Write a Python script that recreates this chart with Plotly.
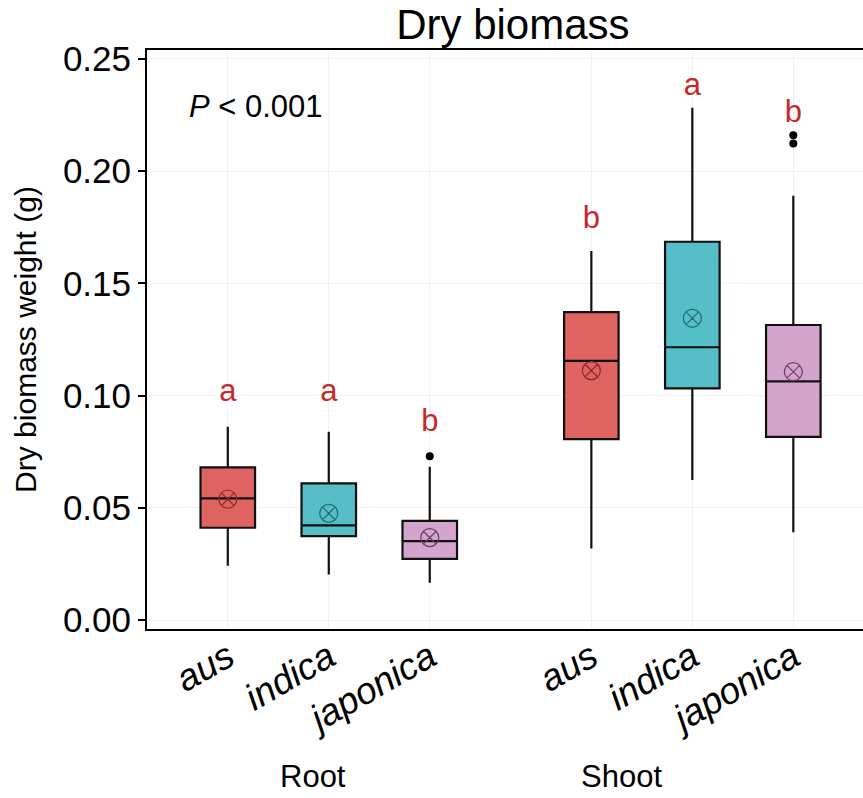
import plotly.graph_objects as go

# ---- data ----
subspecies = ["aus", "indica", "japonica"]
tissues = ["Root", "Shoot"]
x_pos = {"Root": [1.0, 2.0, 3.0], "Shoot": [4.6, 5.6, 6.6]}

q1 = {"aus": [0.0411, 0.0806], "indica": [0.0374, 0.1032], "japonica": [0.0272, 0.0816]}
median = {"aus": [0.0542, 0.1154], "indica": [0.0422, 0.1215], "japonica": [0.0351, 0.1063]}
q3 = {"aus": [0.0680, 0.1371], "indica": [0.0609, 0.1685], "japonica": [0.0442, 0.1314]}
lowerfence = {"aus": [0.0242, 0.0319], "indica": [0.0203, 0.0624], "japonica": [0.0166, 0.0391]}
upperfence = {"aus": [0.0861, 0.1644], "indica": [0.0839, 0.2282], "japonica": [0.0683, 0.1890]}
means = {"aus": [0.0538, 0.1111], "indica": [0.0475, 0.1344], "japonica": [0.0367, 0.1106]}

outlier_x = [3.0, 6.6, 6.6]
outlier_y = [0.0730, 0.2159, 0.2123]

letters = {"aus": ["a", "b"], "indica": ["a", "a"], "japonica": ["b", "b"]}
letter_y = {"aus": [0.101, 0.178], "indica": [0.101, 0.2373], "japonica": [0.0877, 0.2254]}

fills = {"aus": "#DE6361", "indica": "#56BEC6", "japonica": "#D4A5CC"}
mean_cols = {"aus": "#8E2A2A", "indica": "#1E6F75", "japonica": "#6E3F68"}

y_ticks = [0.00, 0.05, 0.10, 0.15, 0.20, 0.25]
FONT = "Liberation Sans, Arial, sans-serif"

fig = go.Figure()
for i, s in enumerate(subspecies):
    xs = [x_pos["Root"][i], x_pos["Shoot"][i]]
    fig.add_trace(go.Box(
        x=xs, q1=q1[s], median=median[s], q3=q3[s],
        lowerfence=lowerfence[s], upperfence=upperfence[s],
        width=0.54, fillcolor=fills[s], line=dict(color="#111111", width=2.2),
        whiskerwidth=0, boxpoints=False, showlegend=False, name=s,
    ))
    fig.add_trace(go.Scatter(
        x=xs, y=means[s], mode="markers", showlegend=False,
        marker=dict(symbol="circle-x-open", size=18, color=mean_cols[s],
                    line=dict(width=1.2, color=mean_cols[s])),
    ))
    fig.add_trace(go.Scatter(
        x=xs, y=letter_y[s], mode="text", text=letters[s], showlegend=False,
        textfont=dict(family=FONT, size=31, color="#C8282A"),
        textposition="middle center",
    ))

fig.add_trace(go.Scatter(
    x=outlier_x, y=outlier_y, mode="markers", showlegend=False,
    marker=dict(symbol="circle", size=8, color="black"),
))

all_x = x_pos["Root"] + x_pos["Shoot"]
fig.update_layout(
    width=863, height=798,
    margin=dict(l=147, r=0, t=50, b=169),
    plot_bgcolor="white", paper_bgcolor="white",
    font=dict(family=FONT, color="black"),
    title=dict(text="Dry biomass", x=0.511, xanchor="center", xref="paper",
               y=0.970, yanchor="middle", font=dict(size=42, color="black")),
)
fig.update_xaxes(
    range=[0.2, 7.29], tickvals=all_x, ticktext=subspecies * 2,
    tickangle=-30, tickfont=dict(size=37, style="italic", color="black"),
    ticklabelstandoff=-10,
    showline=True, linecolor="black", linewidth=2, mirror=True,
    showgrid=True, gridcolor="#F2F2F2", gridwidth=1, zeroline=False,
    ticks="",
)
fig.update_yaxes(
    range=[-0.004, 0.2539], tickvals=y_ticks,
    ticktext=[f"{v:.2f}" for v in y_ticks],
    tickfont=dict(size=35, color="black"),
    showline=True, linecolor="black", linewidth=2, mirror=False,
    ticks="outside", ticklen=7, tickwidth=1.5, tickcolor="black",
    showgrid=True, gridcolor="#F2F2F2", gridwidth=1, zeroline=False,
    title=dict(text="Dry biomass weight (g)", font=dict(size=30, color="black"), standoff=17),
)

fig.add_annotation(x=0.597, y=0.2286, xref="x", yref="y", xanchor="left", yanchor="middle",
                   text="<i>P</i> < 0.001", showarrow=False, font=dict(size=31, color="black"))
fig.add_annotation(x=1.845, y=-0.2556, xref="x", yref="paper", xanchor="center", yanchor="middle",
                   text="Root", showarrow=False, font=dict(size=31, color="black"))
fig.add_annotation(x=4.894, y=-0.2556, xref="x", yref="paper", xanchor="center", yanchor="middle",
                   text="Shoot", showarrow=False, font=dict(size=31, color="black"))

fig.write_html("out.html")
